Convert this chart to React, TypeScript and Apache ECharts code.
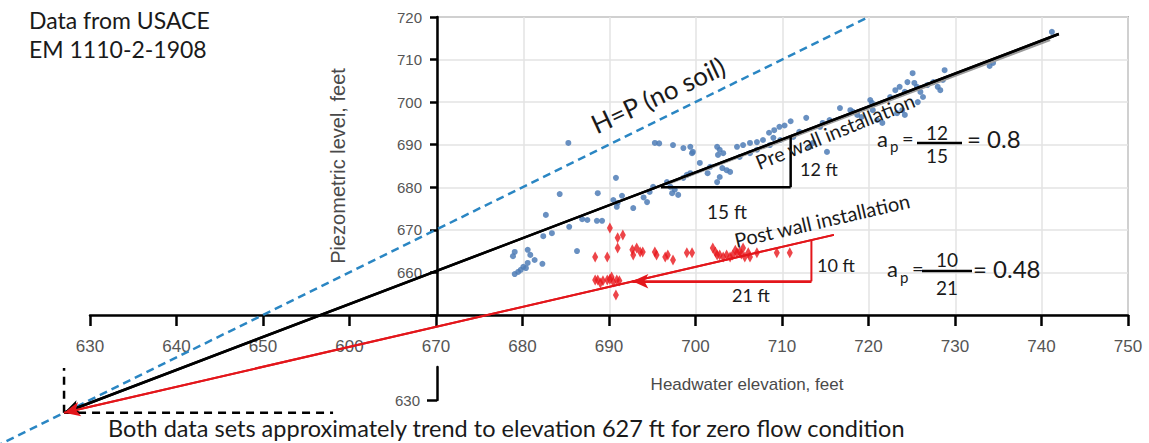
import React, { useEffect, useRef } from "react";
import * as echarts from "echarts";

// Tick values and labels (the "600" label at 660 is as printed in the source)
const xTicks = [630, 640, 650, 660, 670, 680, 690, 700, 710, 720, 730, 740, 750];
const xTickLabels = ["630", "640", "650", "600", "670", "680", "690", "700", "710", "720", "730", "740", "750"];
const yTicks = [660, 670, 680, 690, 700, 710, 720];
const yStubTicks = [630];

// Pre wall installation piezometer readings [headwater, piezometric]
const preWall: [number, number][] = [
  [678.9, 663.8], [679.1, 664.8], [680.6, 665.3], [680.9, 664.1], [680.6, 662.2], [681.4, 662.9],
  [682.3, 662.0], [680.1, 661.3], [679.5, 660.1], [679.1, 659.6], [679.8, 660.6], [680.4, 661.0],
  [682.4, 668.5], [683.4, 669.2], [682.7, 673.5], [684.3, 678.4], [685.3, 690.4], [685.4, 670.7],
  [686.3, 665.0], [686.9, 672.5], [687.5, 672.3], [688.6, 672.1], [689.2, 672.1], [688.7, 678.6],
  [690.8, 682.2], [690.5, 677.0], [691.5, 678.0], [690.9, 675.4], [691.0, 676.3], [692.8, 675.1],
  [694.4, 676.5], [694.0, 677.6], [695.3, 690.4], [695.8, 690.3], [697.4, 689.9], [698.6, 689.2],
  [699.4, 689.5], [699.7, 688.3], [699.6, 688.0], [702.5, 689.5], [702.8, 688.8], [703.2, 688.0],
  [702.6, 687.6], [700.5, 685.7], [701.4, 683.3], [701.7, 684.8], [703.1, 684.5], [703.6, 684.0],
  [704.0, 683.6], [702.8, 682.4], [702.5, 681.2], [698.6, 682.2], [699.0, 682.9], [699.4, 683.3],
  [696.7, 681.2], [697.1, 680.1], [697.6, 679.4], [697.3, 678.6], [698.0, 678.2], [695.1, 680.1],
  [694.7, 678.9], [704.8, 689.5], [705.5, 689.9], [706.3, 690.4], [707.1, 690.6], [707.8, 691.1],
  [709.0, 691.6], [709.8, 691.1], [708.6, 689.9], [707.1, 688.8], [706.3, 688.0], [705.1, 687.1],
  [711.3, 691.8], [713.2, 689.5], [713.6, 690.4], [715.2, 688.3], [708.5, 692.8], [710.3, 694.5],
  [712.0, 693.0], [711.0, 695.5], [712.8, 696.3], [709.1, 693.4], [709.7, 694.2],
  [716.7, 698.6], [717.9, 698.1], [718.2, 697.7], [718.7, 697.0], [719.2, 696.5],
  [715.5, 695.8], [714.7, 695.1], [714.4, 694.2], [720.2, 700.5], [720.4, 699.8], [720.5, 698.1],
  [721.0, 695.8], [721.6, 695.1], [722.5, 701.2], [723.1, 702.8], [723.6, 703.6], [724.2, 702.4],
  [724.5, 704.7], [725.1, 706.8], [725.3, 704.5], [725.6, 703.6], [726.0, 702.4], [726.3, 701.2],
  [725.7, 700.0], [723.9, 698.1], [724.2, 697.0], [723.3, 697.4], [726.8, 704.0], [727.5, 704.7],
  [728.0, 703.6], [728.3, 702.8], [728.8, 707.5], [728.6, 705.2], [734.0, 708.5], [734.4, 709.2],
  [741.2, 716.5],
];

// Post wall installation piezometer readings
const postWall: [number, number][] = [
  [690.1, 670.4], [691.0, 668.1], [691.6, 668.8], [691.0, 665.7], [688.4, 663.6], [689.8, 663.6],
  [692.7, 665.3], [693.2, 665.7], [693.6, 664.8], [693.9, 664.8], [692.8, 664.1],
  [688.4, 658.2], [688.7, 658.2], [689.3, 658.0], [689.8, 658.2], [690.1, 658.4], [690.5, 657.7],
  [690.9, 658.2], [689.0, 657.5], [690.3, 658.9], [691.2, 658.0], [690.8, 654.7],
  [695.3, 664.8], [695.5, 664.1], [696.5, 663.6], [696.8, 664.1], [697.4, 662.9], [699.0, 664.6],
  [699.6, 664.6], [702.0, 665.7], [702.3, 664.8], [702.5, 664.1], [702.8, 664.1], [703.2, 663.6],
  [703.6, 664.1], [704.0, 663.6], [704.3, 664.1], [704.8, 664.6], [705.1, 664.8], [705.5, 665.7],
  [705.7, 663.6], [706.1, 664.6], [706.3, 663.6], [707.1, 664.6], [705.3, 664.3], [704.6, 665.2],
  [709.4, 664.6], [710.9, 664.6],
];

// Reference lines
const noSoilLine: [number, number][] = [[619, 619], [720, 720]];
const preTrend: [number, number][] = [[627, 627], [742, 716]];
const preTrendGray: [number, number][] = [[697, 680.9], [741, 714.6]];
const postTrend: [number, number][] = [[627, 627], [716, 668.8]];
const preSlopeRun: [number, number][] = [[696, 680], [711, 680]];
const preSlopeRise: [number, number][] = [[711, 680], [711, 692]];
const postSlopeRun: [number, number][] = [[692.7, 657.9], [713.4, 657.9]];
const postSlopeRise: [number, number][] = [[713.4, 657.9], [713.4, 667.6]];
const zeroFlowV: [number, number][] = [[627, 627], [627, 637.5]];
const zeroFlowH: [number, number][] = [[627, 627], [658.1, 627]];

const ANNO = 'Lato, "Open Sans", sans-serif';
const AXF = '"Liberation Sans", Arial, sans-serif';

// scale: 630 at 90px, 750 at 1128px horizontally; 720 at 17px, 630 at 400px vertically
const XPX = 1038 / 120;
const YPX = 383 / 90;

function seg(data: [number, number][], color: string, width: number, type: any = "solid", arrow = false, z = 3) {
  const s: any = {
    type: "line",
    xAxisIndex: 0,
    yAxisIndex: 0,
    data,
    symbol: "none",
    clip: false,
    silent: true,
    z,
    lineStyle: { color, width, type },
  };
  if (arrow) {
    s.markLine = {
      silent: true,
      symbol: ["arrow", "none"],
      symbolSize: [11, 16],
      label: { show: false },
      lineStyle: { color, width, type: "solid" },
      data: [[{ coord: data[0] }, { coord: data[1] }]],
    };
  }
  return s;
}

function txt(text: string, x: number, y: number, size: number, opts: any = {}) {
  return {
    type: "text",
    x,
    y,
    rotation: opts.rotation || 0,
    z: 10,
    style: {
      text,
      fontSize: size,
      fontFamily: opts.family || ANNO,
      fill: opts.fill || "#1a1a1a",
      align: opts.align || "left",
      verticalAlign: "middle",
    },
  };
}

function hline(x1: number, x2: number, y: number) {
  return { type: "line", z: 10, shape: { x1, y1: y, x2, y2: y }, style: { stroke: "#000", lineWidth: 2.5 } };
}

export default function App() {
  const ref = useRef<HTMLDivElement>(null);
  useEffect(() => {
    if (!ref.current) return;
    const chart = echarts.init(ref.current, null, { renderer: "svg" });
    const deg = Math.PI / 180;
    const option: any = {
      animation: false,
      backgroundColor: "#fff",
      grid: [
        { left: 0, right: 0, top: 0, bottom: 0 },
        { left: 90, right: 21, top: 17, height: 298 },
        { left: 437, right: 21, top: 17, height: 298, show: true, borderColor: "#777", borderWidth: 1.5 },
        { left: 437, right: 21, top: 367, height: 33 },
      ],
      xAxis: [
        { gridIndex: 0, type: "value", min: 630 - 90 / XPX, max: 750 + 21 / XPX, show: false },
        {
          gridIndex: 1, type: "value", min: 630, max: 750, interval: 10,
          axisLine: { show: true, lineStyle: { color: "#000", width: 2.5 } },
          axisTick: { show: true, inside: false, length: 11, lineStyle: { color: "#000", width: 2.5 } },
          axisLabel: {
            margin: 23, fontSize: 17, color: "#555", fontFamily: AXF,
            formatter: (v: number) => {
              const i = xTicks.indexOf(Math.round(v));
              return i >= 0 ? xTickLabels[i] : "";
            },
          },
          splitLine: { show: false },
        },
        {
          gridIndex: 2, type: "value", min: 670, max: 750, interval: 10,
          axisLine: { show: false }, axisTick: { show: false }, axisLabel: { show: false },
          splitLine: { show: true, lineStyle: { color: "#e3e3e3", width: 1.5 } },
        },
        { gridIndex: 3, type: "value", min: 670, max: 750, show: false },
      ],
      yAxis: [
        { gridIndex: 0, type: "value", min: 630 - 43 / YPX, max: 720 + 17 / YPX, show: false },
        { gridIndex: 1, type: "value", min: 650, max: 720, show: false },
        {
          gridIndex: 2, type: "value", min: 650, max: 720, interval: 10,
          axisLine: { show: true, lineStyle: { color: "#000", width: 2.5 } },
          axisTick: { show: true, inside: false, length: 7, lineStyle: { color: "#000", width: 2.5 } },
          axisLabel: {
            margin: 15, fontSize: 15, color: "#555", fontFamily: AXF,
            formatter: (v: number) => (yTicks.indexOf(Math.round(v)) >= 0 ? String(Math.round(v)) : ""),
          },
          splitLine: { show: true, lineStyle: { color: "#e3e3e3", width: 1.5 } },
        },
        {
          gridIndex: 3, type: "value", min: 630, max: 637.75,
          axisLine: { show: true, lineStyle: { color: "#000", width: 2.5 } },
          axisTick: { show: true, inside: false, length: 10, customValues: yStubTicks, lineStyle: { color: "#000", width: 2.5 } },
          axisLabel: { margin: 17, fontSize: 15, color: "#555", fontFamily: AXF, customValues: yStubTicks },
          splitLine: { show: false },
        },
      ],
      series: [
        {
          type: "scatter", xAxisIndex: 0, yAxisIndex: 0, data: preWall, symbol: "circle", symbolSize: 6,
          itemStyle: { color: "#4f7db6", opacity: 0.85 }, silent: true, z: 2,
        },
        {
          type: "scatter", xAxisIndex: 0, yAxisIndex: 0, data: postWall, symbol: "diamond", symbolSize: [6, 11],
          itemStyle: { color: "#e8161b" }, silent: true, z: 2,
        },
        seg(noSoilLine, "#2a86c3", 2.5, [8, 5]),
        seg(preTrendGray, "#9a9a9a", 2, "solid"),
        seg(preTrend, "#000", 2.5, "solid", true, 4),
        seg(postTrend, "#e3161b", 2, "solid", true, 4),
        seg(preSlopeRun, "#000", 2.5),
        seg(preSlopeRise, "#000", 2.5),
        seg(postSlopeRun, "#e3161b", 2, "solid", true),
        seg(postSlopeRise, "#e3161b", 2),
        seg(zeroFlowV, "#000", 2.5, [8, 6]),
        seg(zeroFlowH, "#000", 2.5, [8, 6]),
      ],
      graphic: [
        txt("Data from USACE", 29, 20, 23),
        txt("EM 1110-2-1908", 29, 49, 23),
        txt("Both data sets approximately trend to elevation 627 ft for zero flow condition", 108, 428, 23.5),
        txt("H=P (no soil)", 658, 95, 26, { align: "center", rotation: 25 * deg }),
        txt("Pre wall installation", 835, 131, 20, { align: "center", rotation: 22 * deg }),
        txt("Post wall installation", 822, 220, 20, { align: "center", rotation: 13 * deg }),
        txt("12 ft", 819, 169, 18, { align: "center" }),
        txt("15 ft", 727, 211, 19, { align: "center" }),
        txt("10 ft", 836, 265, 18, { align: "center" }),
        txt("21 ft", 751, 295, 18, { align: "center" }),
        txt("Piezometric level, feet", 338, 166, 20, { align: "center", rotation: 90 * deg, family: AXF, fill: "#4a4a4a" }),
        txt("Headwater elevation, feet", 747, 384, 17, { align: "center", family: AXF, fill: "#4a4a4a" }),
        // a_p = 12/15 = 0.8
        txt("a", 877, 138, 22),
        txt("p", 890, 146, 15),
        txt("=", 902, 138, 20),
        txt("12", 937, 132, 19, { align: "center" }),
        hline(917, 962, 143),
        txt("15", 937, 155, 19, { align: "center" }),
        txt("= 0.8", 967, 138, 24),
        // a_p = 10/21 = 0.48
        txt("a", 887, 268, 22),
        txt("p", 900, 277, 15),
        txt("=", 912, 268, 20),
        txt("10", 947, 259, 19, { align: "center" }),
        hline(922, 972, 271),
        txt("21", 947, 287, 19, { align: "center" }),
        txt("= 0.48", 973, 268, 24),
      ],
    };
    chart.setOption(option);
    return () => chart.dispose();
  }, []);
  return <div ref={ref} style={{ position: "absolute", left: 0, top: 0, width: 1149, height: 443 }} />;
}
